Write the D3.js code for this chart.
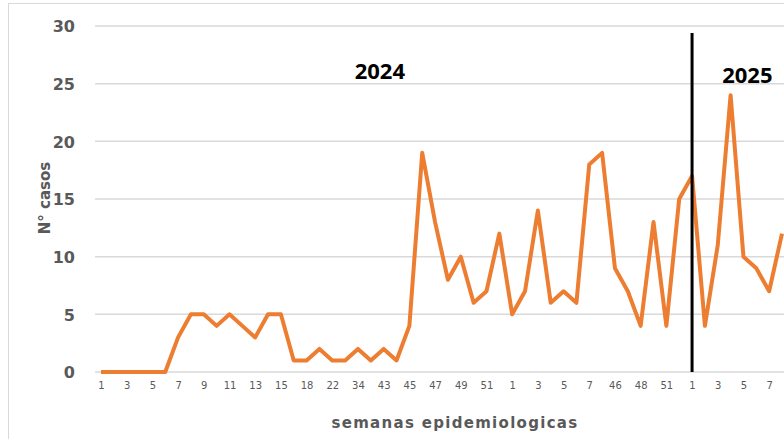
<!DOCTYPE html>
<html>
<head>
<meta charset="utf-8">
<script src="https://cdn.jsdelivr.net/npm/d3@7"></script>
<style>
  body { margin: 0; background: #fff; }
  svg { display: block; font-family: "DejaVu Sans", "Open Sans", sans-serif; }
</style>
</head>
<body>
<script>
// epidemiological weeks (2024 then 2025), only every other one is labelled
var weeks = [1,2,3,4,5,6,7,8,9,10,11,12,13,14,15,16,18,20,22,30,34,40,43,44,45,46,47,48,49,50,51,52,
             1,2,3,4,5,6,7,8,46,47,48,49,51,52,
             1,2,3,4,5,6,7,8];
var casos = [0,0,0,0,0,0,3,5,5,4,5,4,3,5,5,1,1,2,1,1,2,1,2,1,4,19,13,8,10,6,7,12,
             5,7,14,6,7,6,18,19,9,7,4,13,4,15,
             17,4,11,24,10,9,7,12];
var yTicks = [0,5,10,15,20,25,30];
var years = ["2024", "2025"];
var yearAt = [21.7, 50.3];   // index positions of year captions
var splitAt = 46;            // first week of 2025

var W = 784, H = 439;

var svg = d3.select("body").append("svg")
    .attr("width", W)
    .attr("height", H);

// chart frame
svg.append("rect")
    .attr("x", 8.5).attr("y", 3.5)
    .attr("width", W + 20).attr("height", H + 20)
    .attr("fill", "none")
    .attr("stroke", "#d9d9d9");

var x = d3.scaleLinear()
    .domain([0, weeks.length - 1])
    .range([101, 782]);

var y = d3.scaleLinear()
    .domain([0, 30])
    .range([372, 26]);

// grid
svg.append("g")
  .selectAll("line")
  .data(yTicks)
  .enter().append("line")
    .attr("x1", 95).attr("x2", W)
    .attr("y1", function(d) { return y(d); })
    .attr("y2", function(d) { return y(d); })
    .attr("stroke", "#d9d9d9")
    .attr("stroke-width", 1.5);

// y labels
var yAxis = d3.axisLeft(y).tickValues(yTicks).tickSize(0).tickPadding(0);
var gy = svg.append("g")
    .attr("transform", "translate(75,0)")
    .call(yAxis);
gy.select(".domain").remove();
gy.selectAll("text")
    .attr("fill", "#595959")
    .style("font-family", "DejaVu Sans")
    .style("font-size", "16px")
    .style("font-weight", "bold")
    .attr("dy", "0.36em");

// x labels
var xAxis = d3.axisBottom(x)
    .tickValues(d3.range(0, weeks.length, 2))
    .tickFormat(function(i) { return weeks[i]; })
    .tickSize(0)
    .tickPadding(10);
var gx = svg.append("g")
    .attr("transform", "translate(0," + y(0) + ")")
    .call(xAxis);
gx.select(".domain").remove();
gx.selectAll("text")
    .attr("fill", "#595959")
    .style("font-family", "DejaVu Sans")
    .style("font-size", "10px");

// data line
var line = d3.line()
    .x(function(d, i) { return x(i); })
    .y(function(d) { return y(d); });

svg.append("path")
    .datum(casos)
    .attr("fill", "none")
    .attr("stroke", "#ED7D31")
    .attr("stroke-width", 4)
    .attr("stroke-linejoin", "round")
    .attr("d", line);

// year divider
svg.append("line")
    .attr("x1", x(splitAt)).attr("x2", x(splitAt))
    .attr("y1", 33).attr("y2", y(0))
    .attr("stroke", "#000")
    .attr("stroke-width", 3);

svg.append("g")
  .selectAll("text")
  .data(years)
  .enter().append("text")
    .attr("x", function(d, i) { return x(yearAt[i]); })
    .attr("y", function(d, i) { return i == 0 ? 79 : 83; })
    .attr("text-anchor", "middle")
    .style("font-family", "Open Sans")
    .style("font-size", "22px")
    .style("font-weight", "bold")
    .attr("fill", "#000")
    .text(function(d) { return d; });

// axis titles
svg.append("text")
    .attr("transform", "translate(50,198) rotate(-90)")
    .attr("text-anchor", "middle")
    .attr("fill", "#595959")
    .style("font-size", "15px")
    .style("font-weight", "bold")
    .text("N° casos");

svg.append("text")
    .attr("x", 455).attr("y", 428)
    .attr("text-anchor", "middle")
    .attr("fill", "#595959")
    .style("font-size", "15px")
    .style("font-weight", "bold")
    .style("letter-spacing", "1.3px")
    .text("semanas epidemiologicas");
</script>
</body>
</html>
